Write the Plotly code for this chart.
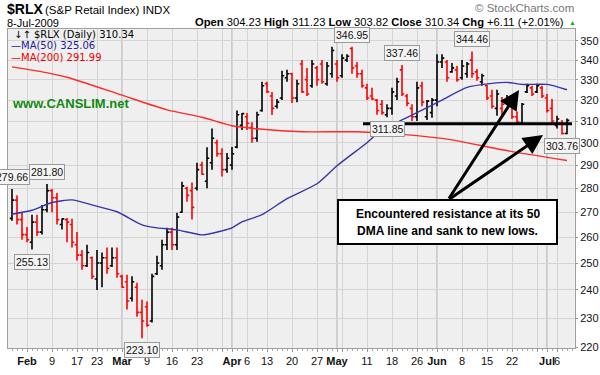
import math
import plotly.graph_objects as go

# ---------------- data ----------------
bar_index = list(range(-3, 109))   # trading-day index, 0 = 2-Feb-2009
open_ = [267.5, 275, 267, 261, 258, 266, 262, 271, 279, 276, 265, 267, 265, 257, 253, 249, 252, 244, 250, 252,
         249, 252, 245, 243, 237, 241, 232, 234, 229, 246, 249, 257, 262, 257, 270, 280, 279, 280, 290, 283,
         291, 300, 295, 288, 290, 298, 308, 312, 307, 302, 315, 328, 322, 317, 321, 331, 333, 321, 338, 330,
         327, 336, 338, 328, 333, 338, 332, 340, 346, 337, 333, 326, 322, 320, 318, 313, 316, 322, 335, 322,
         316, 312, 327, 312, 314, 320, 339, 339, 334, 335, 331, 333, 340, 334, 329, 327, 322, 316, 316, 319,
         319, 312, 309, 324, 326, 324, 326, 321, 316, 308, 309, 304.23]
high = [279.66, 277, 270, 264, 269, 269, 273, 281.80, 279.7, 278, 267.5, 267.7, 267.3, 262, 255, 257, 252.5, 255, 254, 256,
        256, 256, 245.6, 245.6, 245, 242.6, 236.5, 235.8, 246, 252.8, 259, 263.7, 263.7, 269.8, 282.8, 280.6, 282.4, 291, 291.5, 297.9,
        306.5, 301.3, 297.5, 295.4, 298, 315, 313.8, 313.8, 309.4, 314.4, 329, 329, 324, 320.5, 334.5, 335, 333.5, 330, 340, 336,
        340, 337, 340, 339, 347, 340, 343, 343, 346.95, 339, 335, 328, 326, 320.5, 320, 318, 326, 331, 337.46, 323,
        318, 329, 329, 320, 321, 343, 343, 340, 338.5, 337, 340, 339, 344.46, 335.5, 333, 327.5, 325, 325, 321.5, 322.5,
        320, 314.5, 318.6, 328, 327, 328, 327, 323, 320.5, 312.5, 310.5, 311.23]
low = [266.5, 265, 259, 258, 255.13, 260.5, 261, 270, 270, 265, 263, 258, 256, 251, 247.5, 248.5, 244, 240, 241, 246,
       248.5, 244.5, 240.8, 233, 235.8, 230.5, 223.10, 227, 228.5, 245.5, 247.5, 255, 255, 255, 269.8, 274.3, 267, 279, 285.7, 280,
       288, 293.7, 285, 286.6, 288, 297.5, 305.8, 305.8, 300, 300.4, 314.4, 323.5, 312.9, 316, 320, 329, 318.6, 319, 323.5, 322,
       326, 327, 328, 327, 331, 329, 331, 339, 333, 331, 326, 320, 320, 313, 313, 311.85, 313, 320, 322, 317,
       310, 310, 317, 310.5, 311.5, 317, 336, 329, 333.5, 329, 330, 331, 331, 329.5, 327, 320, 316, 312.5, 313, 318,
       311, 308.5, 308.5, 323.5, 322, 323.5, 321, 314, 308.5, 306.5, 303.76, 303.82]
close = [275, 267, 261, 259, 266, 262, 271, 279, 276, 267, 267.3, 266, 258, 253, 249, 254, 245, 250, 252, 248,
         252, 246, 241, 236, 243, 232, 229, 227.5, 245, 250, 257, 262, 257, 268, 281, 277, 272, 288, 286, 293,
         302, 295, 288, 293, 295, 313, 313.5, 309, 302, 313, 327, 324, 316, 319, 332, 333, 321, 328, 324, 323,
         338, 330, 329, 337, 345, 331, 341, 342, 336, 333, 327, 321, 320.5, 315, 314, 316, 324, 329, 323, 318.5,
         312, 326, 319, 319.5, 320, 339, 341, 331, 336, 330, 337, 338, 333, 331, 332, 321, 317, 323, 318, 321,
         312, 309.5, 318, 327, 323, 327, 322, 315, 310, 311, 304.23, 310.34]

ma50_index = [-3, 1, 5, 9, 13, 18, 23, 26, 30, 35, 39, 41, 43, 47, 52, 58, 62, 68, 71, 75, 79, 83, 88, 93, 96, 99, 104, 108]
ma50 = [269.2, 270.8, 274.0, 275.1, 273.0, 270.2, 264.9, 263.7, 262.9, 260.9, 262.5, 263.7, 266.1, 269.0,
        275.6, 281.9, 289.7, 300.0, 305.9, 310.5, 315.2, 320.0, 326.2, 328.2, 328.7, 327.7, 327.7, 325.06]
ma200_index = [-3, 3, 8, 19, 28, 35, 41, 46, 55, 66, 75, 85, 95, 108]
ma200 = [336.5, 334.0, 331.3, 322.4, 315.3, 311.8, 307.8, 306.4, 305.0, 305.0, 303.8, 301.3, 296.8, 291.99]

tick_index = [0, 5, 10, 14, 19, 24, 29, 34, 39, 41, 44, 48, 53, 58, 62, 63, 68, 73, 78, 82, 87, 92, 97, 102, 104, 106]
tick_text = ["<b>Feb</b>", "9", "17", "23", "<b>Mar</b>", "9", "16", "23", "", "<b>Apr</b>", "6", "13", "20", "27",
             "<b>May</b>", "", "11", "18", "26", "<b>Jun</b>", "8", "15", "22", "", "<b>Jul</b>", "6"]
month_index = [19, 41, 62, 82, 104]
y_ticks = [220, 230, 240, 250, 260, 270, 280, 290, 300, 310, 320, 330, 340, 350]

# labelled extremes: (bar index, value, above?)
point_labels = [(-3, 279.66, True), (4, 281.80, True), (1, 255.13, False), (23, 223.10, False),
                (65, 346.95, True), (75, 337.46, True), (89, 344.46, True), (72, 311.85, False), (107, 303.76, False)]

support_level = 308.7
support_from, support_to = 67.2, 109

# ---------------- geometry helpers ----------------
W, H = 600, 375
PL, PR, PT, PB = 8, 575, 29, 348


def px(x):
    return (x - PL) / (PR - PL)


def py(y):
    return (PB - y) / (PB - PT)


FONT = "Liberation Sans, Arial, sans-serif"
VFONT = "DejaVu Sans, Verdana, sans-serif"

# split bars by close vs previous close
up = [True] + [close[k] >= close[k - 1] for k in range(1, len(close))]

fig = go.Figure()
for flag, col in [(True, "#000000"), (False, "#ff0000")]:
    sel = [k for k in range(len(bar_index)) if up[k] == flag]
    fig.add_trace(go.Ohlc(
        x=[bar_index[k] for k in sel],
        open=[open_[k] for k in sel], high=[high[k] for k in sel],
        low=[low[k] for k in sel], close=[close[k] for k in sel],
        increasing=dict(line=dict(color=col, width=1.6)),
        decreasing=dict(line=dict(color=col, width=1.6)),
        tickwidth=0.45, hoverinfo="skip", showlegend=False))

fig.add_trace(go.Scatter(x=ma200_index, y=ma200, mode="lines", line=dict(color="#ff2a2a", width=1.4, shape="spline", smoothing=0.6),
                         hoverinfo="skip", showlegend=False))
fig.add_trace(go.Scatter(x=ma50_index, y=ma50, mode="lines", line=dict(color="#3535a8", width=1.4, shape="spline", smoothing=0.6),
                         hoverinfo="skip", showlegend=False))
fig.add_trace(go.Scatter(x=[support_from, support_to], y=[support_level, support_level], mode="lines",
                         line=dict(color="black", width=3), hoverinfo="skip", showlegend=False, cliponaxis=False))

shapes = []
for m in month_index:
    shapes.append(dict(type="line", xref="x", yref="paper", x0=m, x1=m, y0=0, y1=1,
                       line=dict(color="#a8a8a8", width=1), layer="below"))
# comment box
shapes.append(dict(type="rect", xref="paper", yref="paper", x0=px(338), x1=px(557), y0=py(244), y1=py(200),
                   line=dict(color="black", width=2), fillcolor="white"))

ann = []


def text(x, y, s, size=12, color="#000", family=FONT, anchor="left", yanchor="middle"):
    ann.append(dict(xref="paper", yref="paper", x=px(x), y=py(y), text=s, showarrow=False,
                    xanchor=anchor, yanchor=yanchor, font=dict(size=size, color=color, family=family)))


text(5, 9, "<b>$RLX</b>", size=14)
text(43, 10, "(S&P Retail Index) INDX", size=11.5)
text(5, 23, "8-Jul-2009", size=11)
text(566, 22, "<b>Open</b> 304.23 <b>High</b> 311.23 <b>Low</b> 303.82 <b>Close</b> 310.34 <b>Chg</b> +6.11 (+2.01%)",
     size=11.2, anchor="right")
text(572, 22, "▲", size=7, color="#22aa22", anchor="center")
text(576, 8, "© StockCharts.com", size=11.5, color="#777", anchor="right")
text(12, 35, "\u2193\u2191 $RLX (Daily) 310.34", size=10, family=VFONT)
text(9, 46, "\u2014MA(50) 325.06", size=10, color="#1c1c9c", family=VFONT)
text(9, 57, "\u2014MA(200) 291.99", size=10, color="#ee0000", family=VFONT)
text(10, 103, "<b>www.CANSLIM.net</b>", size=13, color="#108a10")
text(447.5, 214, "<b>Encountered resistance at its 50</b>", size=12, anchor="center")
text(447.5, 231, "<b>DMA line and sank to new lows.</b>", size=12, anchor="center")

for bi, val, above in point_labels:
    ann.append(dict(xref="x", yref="y", x=bi, y=math.log10(val), text=f"{val:.2f}", showarrow=False,
                    yanchor="bottom" if above else "top", yshift=4 if above else -4,
                    font=dict(size=10.5, color="#111", family=FONT),
                    bgcolor="#f4f4f4", bordercolor="#9a9a9a", borderwidth=1, borderpad=1))

# arrows (tip positions / tail offsets in pixels)
for tip, tail in [((519, 90), (448, 200)), ((543, 135), (448, 200))]:
    ann.append(dict(xref="paper", yref="paper", x=px(tip[0]), y=py(tip[1]), ax=tail[0] - tip[0], ay=tail[1] - tip[1],
                    showarrow=True, arrowhead=2, arrowsize=1.3, arrowwidth=3, arrowcolor="black", text=""))

fig.update_layout(
    width=W, height=H, margin=dict(l=PL, r=W - PR, t=PT, b=H - PB),
    paper_bgcolor="white", plot_bgcolor="#efefef",
    shapes=shapes, annotations=ann, showlegend=False,
    xaxis=dict(range=[-3.8, 109.6], tickmode="array", tickvals=tick_index, ticktext=tick_text, tickangle=0,
               showgrid=True, gridcolor="#d4d4d4", gridwidth=1, zeroline=False,
               showline=True, linecolor="#a0a0a0", mirror=True,
               ticks="outside", ticklen=3, tickcolor="#999",
               minor=dict(dtick=1, ticks="outside", ticklen=2, tickcolor="#aaa", showgrid=False),
               tickfont=dict(size=11, color="#111", family=FONT), rangeslider=dict(visible=False), fixedrange=True),
    yaxis=dict(type="log", side="right", range=[math.log10(219.8), math.log10(356.4)],
               tickmode="array", tickvals=y_ticks, ticktext=[str(v) for v in y_ticks],
               showgrid=True, gridcolor="#d4d4d4", zeroline=False,
               showline=True, linecolor="#a0a0a0", mirror=True, ticks="outside", ticklen=2, tickcolor="#999",
               tickfont=dict(size=11, color="#111", family=FONT), fixedrange=True, automargin=False),
)

fig.write_html("out.html", config={"displayModeBar": False},
               post_script="document.body.style.margin='0px';document.body.style.overflow='hidden';")
